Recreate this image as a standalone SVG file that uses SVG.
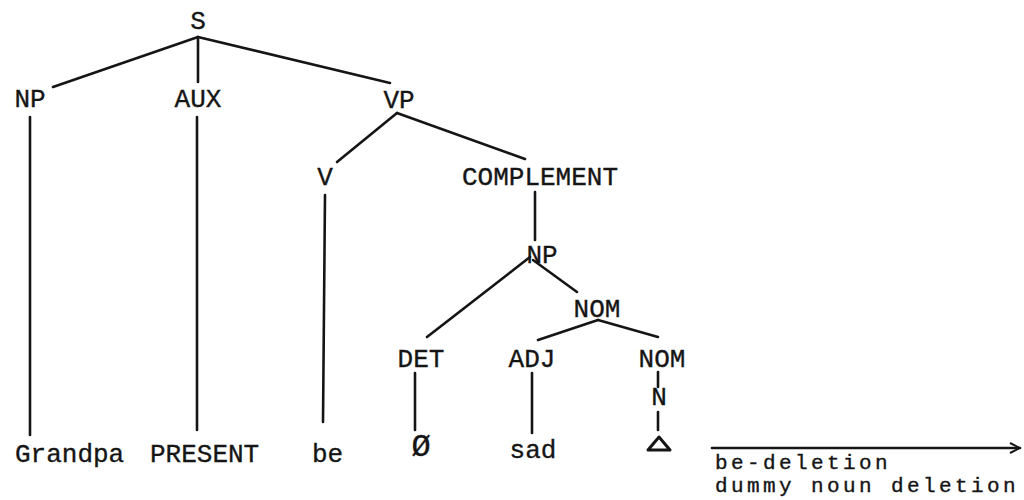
<svg xmlns="http://www.w3.org/2000/svg" width="1024" height="500" viewBox="0 0 1024 500">
<style>
text{font-family:"Liberation Mono","Courier New",monospace;font-size:26px;fill:#151515;stroke:#151515;stroke-width:0.35}
.c{text-anchor:middle}
.lbl{font-size:21px;letter-spacing:3.4px}
.e line{stroke:#151515;stroke-width:2.6;stroke-linecap:round;fill:none}
</style>
<defs>
<marker id="ah" viewBox="0 0 12 12" refX="11" refY="6" markerWidth="12" markerHeight="12" markerUnits="userSpaceOnUse" orient="auto">
<path d="M1,1 L11,6 L1,11" fill="none" stroke="#151515" stroke-width="2"/>
</marker>
</defs>
<rect width="1024" height="500" fill="#fff"/>
<g id="connectors" class="e">
<line x1="198" y1="37" x2="53" y2="87"/>
<line x1="198" y1="37" x2="198" y2="82"/>
<line x1="198" y1="37" x2="390" y2="83"/>
<line x1="30" y1="117" x2="30" y2="435"/>
<line x1="197" y1="117" x2="197" y2="430"/>
<line x1="397" y1="113" x2="337" y2="162"/>
<line x1="397" y1="113" x2="525" y2="159"/>
<line x1="325" y1="195" x2="323" y2="422"/>
<line x1="535" y1="192" x2="535" y2="240"/>
<line x1="530" y1="257" x2="427" y2="337"/>
<line x1="533" y1="260" x2="577" y2="292"/>
<line x1="598" y1="320" x2="538" y2="340"/>
<line x1="598" y1="320" x2="658" y2="337"/>
<line x1="415" y1="373" x2="415" y2="430"/>
<line x1="532" y1="373" x2="532" y2="433"/>
<line x1="658" y1="372" x2="658" y2="387"/>
<line x1="658" y1="412" x2="658" y2="430"/>
<line x1="712" y1="448" x2="1020" y2="448" marker-end="url(#ah)"/>
</g>
<g id="n-S"><text class="c" x="198" y="29">S</text></g>
<g id="n-NP"><text class="c" x="30" y="107">NP</text></g>
<g id="n-AUX"><text class="c" x="198" y="107">AUX</text></g>
<g id="n-VP"><text class="c" x="399" y="108">VP</text></g>
<g id="n-V"><text class="c" x="325" y="185">V</text></g>
<g id="n-COMPLEMENT"><text class="c" x="540" y="185">COMPLEMENT</text></g>
<g id="n-NP2"><text class="c" x="542" y="263">NP</text></g>
<g id="n-NOM"><text class="c" x="597" y="317">NOM</text></g>
<g id="n-DET"><text class="c" x="421" y="367">DET</text></g>
<g id="n-ADJ"><text class="c" x="532" y="367">ADJ</text></g>
<g id="n-NOM2"><text class="c" x="662" y="367">NOM</text></g>
<g id="n-N"><text class="c" x="659" y="405">N</text></g>
<g id="n-Grandpa"><text x="15" y="462">Grandpa</text></g>
<g id="n-PRESENT"><text x="150" y="462">PRESENT</text></g>
<g id="n-be"><text x="312" y="462">be</text></g>
<g id="n-null"><text class="c" x="421" y="456" style="font-size:32px">Ø</text></g>
<g id="n-sad"><text class="c" x="533" y="458">sad</text></g>
<g id="n-dummy"><polygon points="648,450 659,437 670,450" fill="none" stroke="#151515" stroke-width="3" stroke-linejoin="round"/></g>
<g id="label"><text class="lbl" x="715" y="469">be-deletion</text><text class="lbl" x="715" y="492">dummy noun deletion</text></g>
</svg>
